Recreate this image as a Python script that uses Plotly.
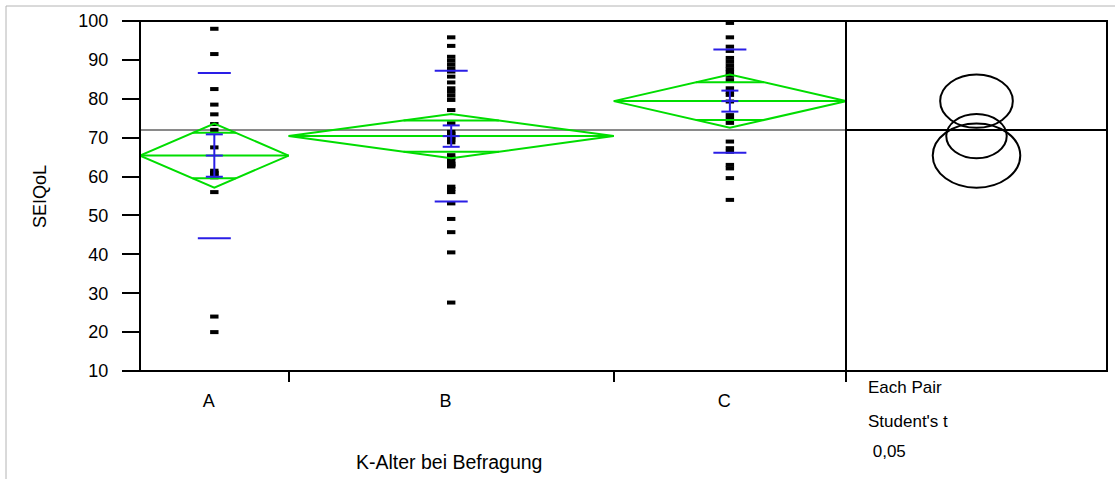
import numpy as np
import plotly.graph_objects as go

# ---------------- data ----------------
categories = ["A", "B", "C"]
values_A = [98.0, 91.5, 82.5, 78.5, 76.0, 73.5, 72.0, 67.5, 61.5, 61.0, 60.8,
            60.2, 59.8, 56.0, 24.0, 20.0]
values_B = [95.8, 93.6, 90.8, 89.8, 88.8, 87.8, 87.0, 85.7, 84.2, 82.7, 81.8,
            80.8, 79.7, 77.1, 73.7, 71.5, 71.0, 70.5, 70.0, 69.5, 68.8, 65.5,
            64.8, 64.0, 63.3, 63.0, 62.6, 57.4, 56.8, 56.0, 53.1, 49.1, 45.7,
            40.5, 27.6]
values_C = [99.5, 95.8, 93.4, 92.3, 90.5, 89.5, 88.5, 87.6, 86.8, 85.9, 84.8,
            82.7, 81.8, 81.0, 79.3, 75.8, 74.8, 73.8, 69.0, 67.3, 66.4, 63.0,
            62.1, 59.6, 54.0]
group_means = [65.4, 70.4, 79.4]
ci_half = [8.25, 5.7, 6.85]        # 95% CI half width (diamonds, circles)
std_err = [5.45, 2.75, 2.7]        # standard error bars
std_dev = [21.25, 16.8, 13.25]     # standard deviation lines
grand_mean = 72.0
y_ticks = list(range(10, 101, 10))
x_title = "K-Alter bei Befragung"
y_title = "SEIQoL"
compare_text = ["Each Pair", "Student's t", " 0,05"]

# ---------------- styling ----------------
FONT = "Liberation Sans, Arial, sans-serif"
FS = 18
GREEN = "#00dd00"
BLUE = "#2a1ee6"
groups = [values_A, values_B, values_C]
counts = np.array([len(g) for g in groups])
edges = np.concatenate([[0], np.cumsum(counts)])
centers = (edges[:-1] + edges[1:]) / 2
total = edges[-1]

W, H = 1115, 479
L, R, T, B = 140, 8, 21, 108
plot_w = W - L - R
main_w = 706
split = main_w / plot_w
u_per_px = total / main_w
sd_half = 16.5 * u_per_px
se_half = 8.5 * u_per_px

fig = go.Figure()

# grand mean (main panel)
fig.add_trace(go.Scatter(x=[0, total], y=[grand_mean, grand_mean], mode="lines",
                         line=dict(color="#8a8a8a", width=2), hoverinfo="skip"))

# points
for c, g in zip(centers, groups):
    fig.add_trace(go.Scatter(
        x=[c] * len(g), y=g, mode="markers",
        marker=dict(symbol="line-ew", size=6, color="black",
                    line=dict(color="black", width=4)),
        hoverinfo="y"))

# diamonds
for i, (c, m, h) in enumerate(zip(centers, group_means, ci_half)):
    x0, x1 = edges[i], edges[i + 1]
    fig.add_trace(go.Scatter(x=[x0, c, x1, c, x0], y=[m, m + h, m, m - h, m],
                             mode="lines", line=dict(color=GREEN, width=2),
                             hoverinfo="skip"))
    fig.add_trace(go.Scatter(x=[x0, x1], y=[m, m], mode="lines",
                             line=dict(color=GREEN, width=2), hoverinfo="skip"))
    off = h / np.sqrt(2)
    hw = (x1 - x0) / 2 * (1 - off / h)
    for s in (1, -1):
        fig.add_trace(go.Scatter(x=[c - hw, c + hw], y=[m + s * off] * 2,
                                 mode="lines", line=dict(color=GREEN, width=2),
                                 hoverinfo="skip"))

# blue: std dev lines and std error bars
for c, m, se, sd in zip(centers, group_means, std_err, std_dev):
    for yy in (m + sd, m - sd):
        fig.add_trace(go.Scatter(x=[c - sd_half, c + sd_half], y=[yy, yy],
                                 mode="lines", line=dict(color=BLUE, width=2),
                                 hoverinfo="skip"))
    fig.add_trace(go.Scatter(x=[c, c], y=[m - se, m + se], mode="lines",
                             line=dict(color=BLUE, width=2), hoverinfo="skip"))
    for yy in (m - se, m, m + se):
        fig.add_trace(go.Scatter(x=[c - se_half, c + se_half], y=[yy, yy],
                                 mode="lines", line=dict(color=BLUE, width=2),
                                 hoverinfo="skip"))

# comparison panel: grand mean line
fig.add_trace(go.Scatter(x=[-30, 30], y=[grand_mean, grand_mean], mode="lines",
                         xaxis="x2", yaxis="y",
                         line=dict(color="black", width=2), hoverinfo="skip"))

shapes = []
# comparison circles
for m, h in zip(group_means, ci_half):
    shapes.append(dict(type="circle", xref="x2", yref="y", x0=-h, x1=h,
                       y0=m - h, y1=m + h, line=dict(color="black", width=2)))
# panel frames
shapes.append(dict(type="rect", xref="x domain", yref="y domain", x0=0, x1=1,
                   y0=0, y1=1, line=dict(color="black", width=2)))
shapes.append(dict(type="rect", xref="x2 domain", yref="y domain", x0=0, x1=1,
                   y0=0, y1=1, line=dict(color="black", width=2)))
# outer gray frame (top and left)
px = lambda xp: (xp - L) / plot_w
py = lambda yp: (H - B - yp) / (H - T - B)
shapes.append(dict(type="line", xref="paper", yref="paper", x0=px(6), x1=px(W),
                   y0=py(6), y1=py(6), line=dict(color="#b4b4b4", width=1)))
shapes.append(dict(type="line", xref="paper", yref="paper", x0=px(6), x1=px(6),
                   y0=py(6), y1=py(H), line=dict(color="#b4b4b4", width=1)))

annotations = [
    dict(text=x_title, xref="paper", yref="paper", x=px(449), y=py(462),
         xanchor="center", yanchor="middle", showarrow=False,
         font=dict(size=19.5, color="black", family=FONT)),
    dict(text=y_title, xref="paper", yref="paper", x=px(40), y=py(197),
         xanchor="center", yanchor="middle", showarrow=False, textangle=-90,
         font=dict(size=FS, color="black", family=FONT)),
]
for t, yp in zip(compare_text, [388, 421, 452]):
    annotations.append(dict(text=t, xref="paper", yref="paper", x=px(866), y=py(yp),
                            xanchor="left", yanchor="middle", showarrow=False,
                            font=dict(size=17, color="black", family=FONT)))

fig.update_layout(
    width=W, height=H, autosize=False,
    margin=dict(l=L, r=R, t=T, b=B, pad=0),
    paper_bgcolor="white", plot_bgcolor="white",
    showlegend=False,
    font=dict(family=FONT, size=FS, color="black"),
    xaxis=dict(domain=[0, split], range=[0, total], showgrid=False, zeroline=False,
               showline=False, tickmode="array", tickvals=list(centers - 0.6),
               ticktext=categories, ticks="", ticklabelstandoff=17,
               tickfont=dict(size=FS),
               minor=dict(tickmode="array", tickvals=list(edges[1:]),
                          ticks="outside", ticklen=10, tickwidth=2,
                          tickcolor="black", showgrid=False)),
    xaxis2=dict(domain=[split, 1], range=[-24.6, 24.6], anchor="y",
                showgrid=False, zeroline=False, showline=False,
                showticklabels=False, ticks=""),
    yaxis=dict(range=[10, 100], tickmode="array", tickvals=y_ticks,
               showgrid=False, zeroline=False, showline=False,
               ticks="outside", ticklen=17, tickwidth=2, tickcolor="black",
               ticklabelstandoff=10, tickfont=dict(size=FS)),
    shapes=shapes,
    annotations=annotations,
)

fig.write_html("out.html")
